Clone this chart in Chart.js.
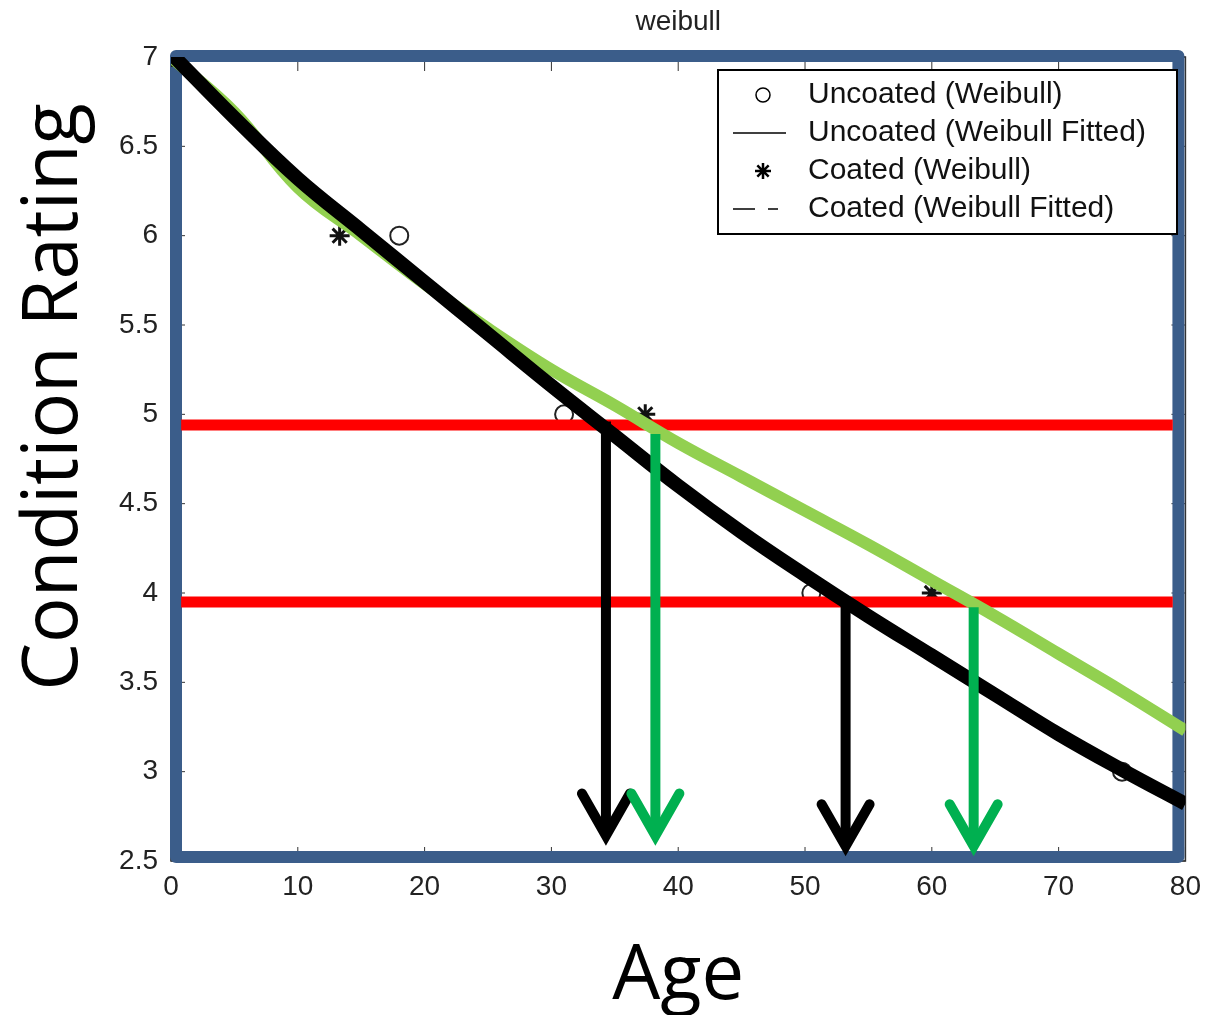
<!DOCTYPE html>
<html>
<head>
<meta charset="utf-8">
<title>weibull</title>
<script src="https://cdn.jsdelivr.net/npm/chart.js@4.4.0/dist/chart.umd.min.js"></script>
<style>
  html, body { margin: 0; padding: 0; background: #fff; }
  #wrap { width: 1210px; height: 1015px; }
</style>
</head>
<body>
<div id="wrap"><canvas id="weibullChart" width="1210" height="1015"></canvas></div>
<script>
// fitted curves, every 5 years
const fitAges = [0, 5, 10, 15, 20, 25, 30, 35, 40, 45, 50, 55, 60, 65, 70, 75, 80];
const uncoatedFit = [7.02, 6.66, 6.32, 6.03, 5.74, 5.45, 5.16, 4.88, 4.60, 4.34, 4.10, 3.87, 3.65, 3.43, 3.21, 3.01, 2.82];
const coatedFit = [7.0, 6.69, 6.27, 6.0, 5.73, 5.48, 5.25, 5.05, 4.84, 4.65, 4.46, 4.27, 4.07, 3.87, 3.66, 3.45, 3.23];

// observed points
const uncoatedAges = [0, 18, 31, 50.5, 75];
const uncoatedRatings = [7, 6, 5, 4, 3];
const coatedAges = [0, 13.3, 37.4, 60];
const coatedRatings = [7, 6, 5, 4];

// red threshold lines
const thresholdRatings = [4.94, 3.95];
const thresholdAges = [0.8, 79];

// arrows down to the age axis
const arrowAges = [34.3, 38.2, 53.2, 63.3];
const arrowFrom = [4.96, 4.89, 3.97, 3.92];
const arrowTo = [2.62, 2.62, 2.56, 2.56];
const arrowColors = ['#000000', '#00b050', '#000000', '#00b050'];

const xTickLabels = ['0', '10', '20', '30', '40', '50', '60', '70', '80'];
const yTickLabels = ['2.5', '3', '3.5', '4', '4.5', '5', '5.5', '6', '6.5', '7'];
const legendLabels = ['Uncoated (Weibull)', 'Uncoated (Weibull Fitted)', 'Coated (Weibull)', 'Coated (Weibull Fitted)'];

const tickFont = { family: 'Liberation Sans', size: 28 };

function toPoints(xs, ys) {
    return xs.map((x, i) => ({ x: x, y: ys[i] }));
}

const framePlugin = {
    id: 'frame',
    beforeDatasetsDraw(chart) {
        const { ctx, chartArea: a, scales } = chart;
        ctx.save();
        ctx.strokeStyle = '#333';
        ctx.lineWidth = 1.5;
        ctx.strokeRect(a.left, a.top, a.right - a.left, a.bottom - a.top);
        ctx.lineWidth = 1;
        scales.x.ticks.forEach(t => {
            const px = scales.x.getPixelForValue(t.value);
            ctx.beginPath();
            ctx.moveTo(px, a.bottom); ctx.lineTo(px, a.bottom - 14);
            ctx.moveTo(px, a.top); ctx.lineTo(px, a.top + 14);
            ctx.stroke();
        });
        scales.y.ticks.forEach(t => {
            const py = scales.y.getPixelForValue(t.value);
            ctx.beginPath();
            ctx.moveTo(a.left, py); ctx.lineTo(a.left + 14, py);
            ctx.moveTo(a.right, py); ctx.lineTo(a.right - 14, py);
            ctx.stroke();
        });
        // thick blue box drawn over the axes
        ctx.strokeStyle = '#3b5d8a';
        ctx.lineWidth = 12;
        ctx.lineJoin = 'round';
        ctx.strokeRect(a.left + 5, a.top - 1, (a.right - 7) - (a.left + 5), (a.bottom - 4) - (a.top - 1));
        ctx.restore();
    }
};

const arrowPlugin = {
    id: 'arrows',
    afterDatasetsDraw(chart) {
        const { ctx, scales } = chart;
        ctx.save();
        arrowAges.forEach((age, i) => {
            const px = scales.x.getPixelForValue(age);
            const y0 = scales.y.getPixelForValue(arrowFrom[i]);
            const y1 = scales.y.getPixelForValue(arrowTo[i]);
            ctx.strokeStyle = arrowColors[i];
            ctx.lineWidth = 10;
            ctx.lineCap = 'butt';
            ctx.beginPath();
            ctx.moveTo(px, y0);
            ctx.lineTo(px, y1 - 6);
            ctx.stroke();
            ctx.lineCap = 'round';
            ctx.lineJoin = 'miter';
            ctx.beginPath();
            ctx.moveTo(px - 24, y1 - 46);
            ctx.lineTo(px, y1 - 4);
            ctx.lineTo(px + 24, y1 - 46);
            ctx.stroke();
        });
        ctx.restore();
    }
};

const textPlugin = {
    id: 'boxLegend',
    afterDraw(chart) {
        const { ctx, chartArea: a } = chart;
        ctx.save();

        // title over the middle of the plot box
        ctx.fillStyle = '#222';
        ctx.font = '28px "Liberation Sans"';
        ctx.textAlign = 'center';
        ctx.textBaseline = 'middle';
        ctx.fillText('weibull', (a.left + a.right) / 2, 22);

        const x0 = a.left + 547, y0 = a.top + 13, w = 459, h = 164;
        ctx.fillStyle = '#fff';
        ctx.fillRect(x0, y0, w, h);
        ctx.strokeStyle = '#000';
        ctx.lineWidth = 2;
        ctx.strokeRect(x0, y0, w, h);

        const sx = x0 + 45;
        legendLabels.forEach((label, i) => {
            const cy = y0 + 25 + i * 38;
            ctx.strokeStyle = '#000';
            if (i === 0) {
                ctx.fillStyle = 'rgba(0,0,0,0)';
                ctx.lineWidth = 1.5;
                Chart.helpers.drawPoint(ctx, { pointStyle: 'circle', radius: 7, borderWidth: 1.5, rotation: 0 }, sx, cy);
            } else if (i === 1) {
                ctx.lineWidth = 1.5;
                ctx.beginPath(); ctx.moveTo(x0 + 15, cy); ctx.lineTo(x0 + 68, cy); ctx.stroke();
            } else if (i === 2) {
                ctx.fillStyle = '#000';
                ctx.lineWidth = 2.5;
                Chart.helpers.drawPoint(ctx, { pointStyle: 'star', radius: 8, borderWidth: 2.5, rotation: 0 }, sx, cy);
            } else {
                ctx.lineWidth = 1.5;
                ctx.beginPath();
                ctx.moveTo(x0 + 15, cy); ctx.lineTo(x0 + 37, cy);
                ctx.moveTo(x0 + 50, cy); ctx.lineTo(x0 + 60, cy);
                ctx.stroke();
            }
            ctx.fillStyle = '#111';
            ctx.font = '30px "Liberation Sans"';
            ctx.textAlign = 'left';
            ctx.textBaseline = 'middle';
            ctx.fillText(label, x0 + 90, cy);
        });

        // big y axis label, sits higher than the scale centre
        ctx.translate(55, 397);
        ctx.rotate(-Math.PI / 2);
        ctx.fillStyle = '#000';
        ctx.font = '76px "Open Sans"';
        ctx.textAlign = 'center';
        ctx.textBaseline = 'middle';
        ctx.fillText('Condition Rating', 0, 0);
        ctx.restore();
    }
};

const chartCtx = document.getElementById('weibullChart').getContext('2d');
const weibullChart = new Chart(chartCtx, {
    type: 'line',
    data: {
        datasets: [
            {
                label: 'Uncoated (Weibull Fitted)',
                data: toPoints(fitAges, uncoatedFit),
                borderColor: '#000000',
                borderWidth: 14,
                pointRadius: 0,
                tension: 0.4,
                borderCapStyle: 'butt'
            },
            {
                label: 'Coated (Weibull Fitted)',
                data: toPoints(fitAges, coatedFit),
                borderColor: '#92d050',
                borderWidth: 12,
                pointRadius: 0,
                tension: 0.4
            },
            {
                label: 'threshold 1',
                data: toPoints(thresholdAges, [thresholdRatings[0], thresholdRatings[0]]),
                borderColor: '#ff0000',
                borderWidth: 11,
                pointRadius: 0
            },
            {
                label: 'threshold 2',
                data: toPoints(thresholdAges, [thresholdRatings[1], thresholdRatings[1]]),
                borderColor: '#ff0000',
                borderWidth: 11,
                pointRadius: 0
            },
            {
                label: 'Uncoated (Weibull)',
                data: toPoints(uncoatedAges, uncoatedRatings),
                showLine: false,
                pointStyle: 'circle',
                pointRadius: 9,
                pointBorderWidth: 2,
                pointBorderColor: '#222',
                pointBackgroundColor: 'rgba(0,0,0,0)'
            },
            {
                label: 'Coated (Weibull)',
                data: toPoints(coatedAges, coatedRatings),
                showLine: false,
                pointStyle: 'star',
                pointRadius: 10,
                pointBorderWidth: 3,
                pointBorderColor: '#111',
                pointBackgroundColor: '#111'
            }
        ]
    },
    options: {
        responsive: false,
        animation: false,
        devicePixelRatio: 1,
        layout: { padding: { left: 0, right: 19, top: 57, bottom: 0 } },
        scales: {
            x: {
                type: 'linear',
                min: 0,
                max: 80,
                grid: { display: false, drawTicks: false },
                border: { display: false },
                ticks: {
                    stepSize: 10,
                    padding: 9,
                    maxRotation: 0,
                    font: tickFont,
                    color: '#222',
                    callback: (v, i) => xTickLabels[i]
                },
                title: {
                    display: true,
                    text: 'Age',
                    font: { family: 'Open Sans', size: 76, lineHeight: 1 },
                    color: '#000',
                    padding: { top: 0, bottom: 0 }
                },
                afterFit(scale) { scale.height = 154; }
            },
            y: {
                min: 2.5,
                max: 7,
                grid: { display: false, drawTicks: false },
                border: { display: false },
                ticks: {
                    stepSize: 0.5,
                    padding: 13,
                    font: tickFont,
                    color: '#222',
                    callback: (v, i) => yTickLabels[i]
                },
                afterFit(scale) { scale.width = 171; }
            }
        },
        plugins: {
            legend: { display: false },
            tooltip: { enabled: false },
            title: { display: false }
        }
    },
    plugins: [framePlugin, arrowPlugin, textPlugin]
});
</script>
</body>
</html>
